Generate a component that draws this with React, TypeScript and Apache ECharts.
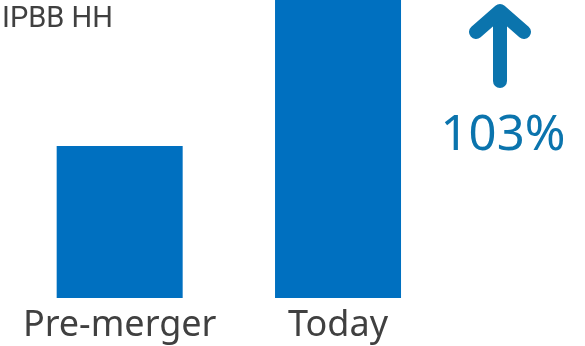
import React, { useEffect, useRef } from "react";
import * as echarts from "echarts";

const categories = ["Pre-merger", "Today"];
const values = [100, 203];
const titleText = "IPBB HH";
const changeText = "103%";

const FONT = "'Noto Sans', sans-serif";

export default function App() {
  const ref = useRef<HTMLDivElement>(null);
  useEffect(() => {
    if (!ref.current) return;
    const chart = echarts.init(ref.current, null, { renderer: "svg" });
    chart.setOption({
      animation: false,
      grid: { left: 10.5, right: 585 - 447.2, top: 0, bottom: 48, containLabel: false },
      xAxis: {
        type: "category",
        data: categories,
        axisLine: { show: false },
        axisTick: { show: false },
        axisLabel: {
          fontFamily: FONT,
          fontSize: 36,
          color: "#404040",
          margin: 6,
          interval: 0,
          hideOverlap: false,
        },
      },
      yAxis: {
        type: "value",
        min: 0,
        max: 196,
        show: false,
        splitLine: { show: false },
      },
      series: [
        {
          type: "bar",
          data: values,
          barWidth: 126,
          itemStyle: { color: "#0070C0" },
        },
      ],
      graphic: [
        {
          type: "text",
          x: 2,
          y: 17,
          style: {
            text: titleText,
            fontFamily: "Roboto, sans-serif",
            fontSize: 29,
            fill: "#404040",
            align: "left",
            verticalAlign: "middle",
          },
        },
        {
          type: "line",
          shape: { x1: 500, y1: 81, x2: 500, y2: 12 },
          style: { stroke: "#0B74AD", lineWidth: 14, lineCap: "round" },
        },
        {
          type: "polyline",
          shape: { points: [[476, 32], [500, 11], [524, 32]] },
          style: { stroke: "#0B74AD", lineWidth: 14, lineCap: "round", lineJoin: "round", fill: "none" },
        },
        {
          type: "text",
          x: 503,
          y: 131,
          style: {
            text: changeText,
            fontFamily: FONT,
            fontSize: 49,
            fill: "#0B74AD",
            align: "center",
            verticalAlign: "middle",
          },
        },
      ],
    });
    return () => chart.dispose();
  }, []);
  return (
    <div
      ref={ref}
      style={{ position: "fixed", left: 0, top: 0, width: 585, height: 346 }}
    />
  );
}
